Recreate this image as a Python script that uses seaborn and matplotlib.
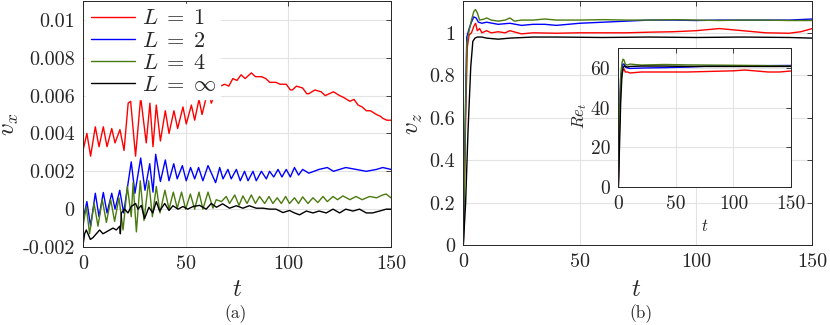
import numpy as np
import pandas as pd
import matplotlib
matplotlib.use('Agg')
import matplotlib.pyplot as plt
import seaborn as sns

sns.set_theme(style='white')
plt.rcParams['font.family'] = 'serif'
plt.rcParams['font.serif'] = ['cmr10', 'DejaVu Serif']
plt.rcParams['mathtext.fontset'] = 'cm'
plt.rcParams['axes.unicode_minus'] = False

# ---- panel (a): v_x ----
t_r = [0, 1.9, 3.7, 6, 7.8, 9.9, 11.7, 14, 15.6, 18, 20, 22, 23.2, 25.6, 28.1, 30.8, 32.6, 34.1, 35.7,
       37.7, 40.1, 41.9, 44.3, 46.1, 48.7, 50.3, 52.8, 54.4, 56.5, 58, 60.9, 62.5, 64, 65.7, 67, 69, 71,
       73, 75, 77, 79, 82, 84, 85, 87, 89, 91, 94, 96, 99, 101, 102, 104, 107, 109, 110, 113, 116, 118,
       120, 122, 125, 127, 130, 132, 134, 136, 138, 140, 143, 145, 146, 148, 150]
v_r = [0.0031, 0.0040, 0.0028, 0.00435, 0.0033, 0.00435, 0.0033, 0.00426, 0.0035, 0.0042, 0.0031,
       0.0056, 0.0057, 0.0028, 0.0059, 0.0035, 0.0056, 0.0033, 0.0055, 0.0036, 0.0052, 0.0040, 0.0052,
       0.00426, 0.0054, 0.0045, 0.0055, 0.0047, 0.0058, 0.0050, 0.0063, 0.0056, 0.0060, 0.0063, 0.0065,
       0.0066, 0.0065, 0.0069, 0.0068, 0.0071, 0.0069, 0.0072, 0.0070, 0.0070, 0.0070, 0.0069, 0.0067,
       0.0067, 0.0066, 0.0066, 0.0063, 0.0063, 0.0065, 0.0064, 0.0061, 0.0061, 0.0063, 0.0062, 0.0060,
       0.0061, 0.0062, 0.0060, 0.0059, 0.0057, 0.0058, 0.0055, 0.0054, 0.0052, 0.0052, 0.0050, 0.0049,
       0.0048, 0.0047, 0.0047]

t_b = [0, 1.9, 3.7, 6, 7.8, 9.9, 11.7, 14, 15.6, 17.9, 19.8, 23.5, 25.3, 28.1, 30.2, 32.5, 34.1, 35.4,
       37.7, 40.1, 41.9, 44.2, 45.9, 48.4, 50.3, 52.4, 54.4, 56.3, 58.4, 60.9, 64.6, 66.6, 68.2, 70.6,
       72.2, 74.7, 76.6, 78.7, 80.4, 82.8, 84.4, 86.9, 89.3, 90.9, 92.9, 95, 96.9, 99, 101, 103, 105, 107,
       110, 115, 119, 122, 128, 133, 138, 143, 146, 150]
v_b = [-0.00056, 0.0004, -0.0009, 0.00084, -0.0004, 0.00088, -0.0002, 0.00084, 0.0, 0.001, -0.0002,
       0.0025, 0.00084, 0.0027, 0.001, 0.0024, 0.0009, 0.0029, 0.00146, 0.0026, 0.0015, 0.0024, 0.0016,
       0.0023, 0.0015, 0.0022, 0.0016, 0.0022, 0.0015, 0.0023, 0.0014, 0.0022, 0.0016, 0.0021, 0.0016,
       0.0021, 0.0015, 0.0020, 0.0015, 0.0020, 0.0015, 0.0020, 0.0016, 0.0020, 0.0017, 0.0021, 0.0017,
       0.0021, 0.0017, 0.0022, 0.0018, 0.0021, 0.0019, 0.0021, 0.0022, 0.0020, 0.0022, 0.0021, 0.0020,
       0.0021, 0.0022, 0.0021]

t_g = [0, 1.6, 3.2, 5.4, 7.3, 9.4, 11.4, 13.5, 15.4, 17.5, 19.5, 21.6, 23.5, 24.4, 26, 27.9, 29.7, 32,
       33.8, 35.7, 37.5, 39.9, 41.9, 44, 45.9, 48, 50, 52.3, 54.4, 56.5, 58.4, 60.9, 63.3, 64.9, 67.4,
       69.8, 71.4, 73.9, 76, 77.9, 79.9, 82, 84, 86, 88.5, 90.6, 92.5, 94.6, 96.6, 98.7, 100.6, 103, 105,
       107, 109.6, 112, 114.4, 116.9, 119, 121.8, 124, 126.6, 130, 133, 136, 139.6, 143, 146, 147.7, 150]
v_g = [-0.0009, 0.00014, -0.0013, 0.0003, -0.0009, 0.0005, -0.0007, 0.0005, -0.00065, 0.0006, -0.0011,
       0.0012, -0.0004, 0.0014, -0.0012, 0.0015, -0.0006, 0.0015, -0.0004, 0.0012, -0.0002, 0.001, 0.0,
       0.0009, 0.00005, 0.0009, 0.0, 0.0008, 0.0, 0.0009, 0.0, 0.0009, 0.00005, 0.0005, 0.0004, 0.00067,
       0.0003, 0.00075, 0.0002, 0.0007, 0.0003, 0.00075, 0.0003, 0.00067, 0.0003, 0.00067, 0.0003,
       0.0006, 0.0003, 0.00067, 0.0003, 0.0006, 0.0003, 0.00065, 0.0003, 0.0006, 0.00035, 0.00067,
       0.0004, 0.00067, 0.0005, 0.0007, 0.0005, 0.00067, 0.0005, 0.00067, 0.0006, 0.00075, 0.0008, 0.0006]

t_k = [0, 0.8, 1.6, 2.4, 3.6, 4.9, 6.5, 8.1, 9.7, 11.4, 13, 14.6, 16.2, 17.9, 18.2, 18.7, 20.3, 21.9,
       23.5, 25.6, 26.8, 28.4, 30, 32.1, 34, 35.7, 37.3, 39.8, 41.9, 43.8, 46.3, 48.7, 51, 53.6, 56.8,
       60, 62.5, 65, 68, 71.4, 74.7, 77.9, 81, 84.4, 87.7, 91, 94, 97.4, 100.6, 103, 105.5, 108.8, 112,
       115, 118.5, 121.8, 125, 128, 131.5, 134.7, 138, 141, 144.5, 147.7, 150]
v_k = [-0.0019, -0.0013, -0.0011, -0.0013, -0.0016, -0.0015, -0.0013, -0.0011, -0.0013, -0.0012,
       -0.0011, -0.001, -0.0011, -0.0009, -0.0013, -0.0002, 0.0, -0.0002, 0.00014, 0.0003, 0.0, 0.0002,
       -0.0005, 0.0001, -0.0002, 0.0004, -0.0001, 0.0003, -0.00007, 0.00018, 0.0, 0.00014, 0.0, 0.00014,
       0.0002, 0.0, 0.0003, 0.0001, 0.00028, 0.00005, 0.00018, 0.00005, 0.00018, 0.00005, 0.00005, 0.0,
       0.0, -0.00018, -0.00007, -0.0002, -0.0003, -0.0001, -0.0002, -0.0001, -0.0002, 0.0, -0.0002, 0.0,
       -0.0001, 0.0, -0.0002, -0.0002, -0.0001, 0.0, 0.0]

# ---- panel (b): v_z ----
tz_r = [0, 1, 1.7, 2.5, 3.5, 4.5, 5.3, 6, 7, 8, 10, 12, 15, 18, 20, 25, 30, 40, 50, 60, 70, 80, 90,
        100, 105, 110, 115, 120, 130, 140, 145, 150]
vz_r = [0, 0.6, 0.93, 0.99, 1.0, 1.03, 1.045, 1.01, 1.02, 1.0, 1.01, 1.0, 1.005, 1.0, 1.01, 0.995,
        1.0, 0.998, 1.0, 1.0, 1.0, 1.003, 1.005, 1.01, 1.015, 1.02, 1.015, 1.01, 1.0, 0.998, 1.005, 1.02]
tz_b = [0, 1, 1.5, 2.5, 3.5, 4.5, 5.5, 6.5, 8, 10, 15, 20, 25, 30, 35, 40, 50, 60, 70, 80, 90, 100,
        110, 120, 130, 140, 150]
vz_b = [0, 0.7, 0.98, 1.02, 1.05, 1.075, 1.07, 1.05, 1.045, 1.05, 1.04, 1.045, 1.035, 1.04, 1.04,
        1.035, 1.045, 1.05, 1.055, 1.06, 1.06, 1.058, 1.06, 1.06, 1.06, 1.06, 1.065]
tz_g = [0, 1, 1.5, 2.5, 3.5, 4.5, 5.2, 6, 7, 9, 10, 12, 15, 18, 20, 22, 25, 30, 35, 40, 50, 60, 70, 80,
        90, 100, 110, 120, 130, 140, 150]
vz_g = [0, 0.65, 0.95, 1.01, 1.06, 1.1, 1.11, 1.095, 1.06, 1.065, 1.07, 1.06, 1.055, 1.06, 1.07,
        1.055, 1.06, 1.06, 1.065, 1.06, 1.06, 1.062, 1.06, 1.06, 1.062, 1.06, 1.058, 1.06, 1.06, 1.058,
        1.058]
tz_k = [0, 1, 2, 3.2, 4.1, 5, 6, 8, 10, 15, 20, 30, 40, 60, 80, 100, 120, 140, 150]
vz_k = [0, 0.2, 0.53, 0.84, 0.96, 0.975, 0.98, 0.98, 0.975, 0.97, 0.975, 0.98, 0.98, 0.978, 0.98,
        0.978, 0.98, 0.978, 0.975]

# ---- inset: Re_t ----
tr_r = [0, 1, 2, 3, 4, 5, 6, 8, 10, 20, 40, 60, 80, 100, 110, 120, 130, 140, 150]
re_r = [0, 30, 50, 57, 59, 59.5, 58, 58, 57.5, 58, 58, 58, 58.3, 58.6, 59, 58.5, 58, 58, 58.5]
tr_b = [0, 1, 2, 3, 4, 5, 6, 8, 10, 20, 40, 60, 80, 100, 120, 150]
re_b = [0, 35, 55, 60, 62, 62, 60.5, 60, 59.8, 60, 60.2, 60.5, 61, 61, 61.2, 61.3]
tr_g = [0, 1, 2, 3, 4, 5, 6, 8, 10, 20, 40, 60, 80, 100, 120, 150]
re_g = [0, 35, 55, 62, 64.5, 64, 62, 61.5, 62, 61.5, 61.8, 61.6, 61.5, 61.4, 61.3, 61]
tr_k = [0, 1, 2, 3, 4, 5, 6, 8, 10, 20, 40, 60, 80, 100, 120, 150]
re_k = [0, 20, 42, 55, 60, 61, 61, 60.5, 60.8, 61, 61, 60.8, 60.8, 60.8, 60.8, 60.8]

labels = [r'$L\;=\;1$', r'$L\;=\;2$', r'$L\;=\;4$', r'$L\;=\;\infty$']
colors = ['#ff0000', '#0000ff', '#4a7a10', '#000000']


def style_ax(ax, fs=14.5):
    ax.grid(True, color='#e3e3e3', linewidth=0.8)
    ax.tick_params(direction='in', length=3.5, width=0.6, top=True, right=True,
                   labelsize=fs, colors='#262626', pad=6)
    for s in ax.spines.values():
        s.set_color('#262626')
        s.set_linewidth(0.7)
    ax.set_axisbelow(True)


def px(x, y):
    # figure pixel (from top-left) -> figure fraction
    return x / 830, 1 - y / 325


fig = plt.figure(figsize=(8.3, 3.25), dpi=100)
ax1 = fig.add_axes([0.1, 0.24, 0.371, 0.757])
ax2 = fig.add_axes([0.5582, 0.246, 0.4205, 0.751])
ax3 = fig.add_axes([0.745, 0.4255, 0.208, 0.426])

series_a = [(t_r, v_r), (t_b, v_b), (t_g, v_g), (t_k, v_k)]
series_b = [(tz_r, vz_r), (tz_b, vz_b), (tz_g, vz_g), (tz_k, vz_k)]
series_c = [(tr_r, re_r), (tr_b, re_b), (tr_g, re_g), (tr_k, re_k)]

for (tt, vv), c, lab in zip(series_a, colors, labels):
    sns.lineplot(x=tt, y=vv, ax=ax1, color=c, linewidth=1.0, label=lab, sort=False, estimator=None)
for (tt, vv), c in zip(series_b, colors):
    sns.lineplot(x=tt, y=vv, ax=ax2, color=c, linewidth=1.0, sort=False, estimator=None)
for (tt, vv), c in zip(series_c, colors):
    sns.lineplot(x=tt, y=vv, ax=ax3, color=c, linewidth=1.0, sort=False, estimator=None)

ax1.set_xlim(0, 150)
ax1.set_ylim(-0.002, 0.011)
ax1.set_xticks([0, 50, 100, 150])
ax1.set_xticklabels(['0', '50', '100', '150'])
ax1.set_yticks([-0.002, 0, 0.002, 0.004, 0.006, 0.008, 0.01])
ax1.set_yticklabels(['-0.002', '0', '0.002', '0.004', '0.006', '0.008', '0.01'])
style_ax(ax1)
ax1.set_xlabel('')
ax1.set_ylabel('')
leg = ax1.legend(loc='upper left', fontsize=16, frameon=True, handlelength=2.0,
                 handletextpad=0.3, borderaxespad=0.15, labelspacing=0.12, borderpad=0.2)
leg.get_frame().set_facecolor('white')
leg.get_frame().set_edgecolor('white')
leg.get_frame().set_alpha(1)

ax2.set_xlim(0, 150)
ax2.set_ylim(0, 1.15)
ax2.set_xticks([0, 50, 100, 150])
ax2.set_xticklabels(['0', '50', '100', '150'])
ax2.set_yticks([0, 0.2, 0.4, 0.6, 0.8, 1])
ax2.set_yticklabels(['0', '0.2', '0.4', '0.6', '0.8', '1'])
style_ax(ax2)
ax2.set_xlabel('')
ax2.set_ylabel('')

ax3.set_xlim(0, 150)
ax3.set_ylim(0, 70)
ax3.set_xticks([0, 50, 100, 150])
ax3.set_xticklabels(['0', '50', '100', '150'])
ax3.set_yticks([0, 20, 40, 60])
ax3.set_yticklabels(['0', '20', '40', '60'])
style_ax(ax3, fs=14)
ax3.set_facecolor('white')
ax3.set_xlabel('')
ax3.set_ylabel('')

# axis labels and captions placed where the reference has them
fig.text(*px(237, 290), r'$t$', ha='center', va='center', fontsize=18)
fig.text(*px(636, 290), r'$t$', ha='center', va='center', fontsize=18)
fig.text(*px(10, 124), r'$v_x$', ha='center', va='center', rotation=90, fontsize=18)
fig.text(*px(414, 124), r'$v_z$', ha='center', va='center', rotation=90, fontsize=18)
fig.text(*px(705, 226), r'$t$', ha='center', va='center', fontsize=12)
fig.text(*px(580, 116), r'$Re_t$', ha='center', va='center', rotation=90, fontsize=12)
fig.text(*px(236, 314), '(a)', ha='center', va='center', fontsize=12.5)
fig.text(*px(641, 314), '(b)', ha='center', va='center', fontsize=12.5)

fig.savefig('out.png', dpi=100)
